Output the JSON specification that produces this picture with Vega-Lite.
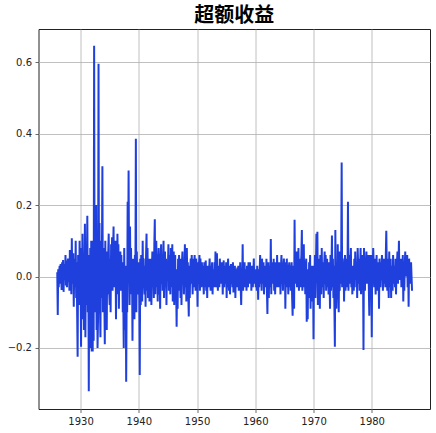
{
"$schema":"https://vega.github.io/schema/vega-lite/v6.json",
"autosize":{"type":"none"},
"padding":{"left":38.5,"top":29,"right":6,"bottom":24},
"width":391.5,"height":380,
"background":"white",
"title":{"text":"超额收益","font":"Noto Sans CJK SC","fontWeight":"bold","fontSize":20,"color":"#000","anchor":"middle","offset":3},
"config":{"view":{"stroke":"#222","strokeWidth":1},
 "axis":{"grid":true,"gridColor":"#b0b0b0","gridWidth":0.8,"domain":false,"tickColor":"#444","tickSize":3.5,"tickWidth":0.8,"labelFont":"DejaVu Sans","labelFontSize":10,"labelColor":"#222","labelPadding":3.5,"title":null}},
"data":{"values":[
{"t":"1926-01","v":0.012},{"t":"1926-02","v":-0.108},{"t":"1926-03","v":0.02},{"t":"1926-04","v":-0.03},{"t":"1926-05","v":0.015},{"t":"1926-06","v":0.03},{"t":"1926-07","v":-0.02},{"t":"1926-08","v":0.035},{"t":"1926-09","v":0.005},{"t":"1926-10","v":-0.038},{"t":"1926-11","v":0.04},{"t":"1926-12","v":0.01},
{"t":"1927-01","v":0.046},{"t":"1927-02","v":-0.043},{"t":"1927-03","v":0.02},{"t":"1927-04","v":0.035},{"t":"1927-05","v":-0.01},{"t":"1927-06","v":0.06},{"t":"1927-07","v":-0.025},{"t":"1927-08","v":0.045},{"t":"1927-09","v":-0.03},{"t":"1927-10","v":0.02},{"t":"1927-11","v":0.05},{"t":"1927-12","v":-0.015},
{"t":"1928-01","v":0.03},{"t":"1928-02","v":-0.04},{"t":"1928-03","v":0.074},{"t":"1928-04","v":0.02},{"t":"1928-05","v":0.06},{"t":"1928-06","v":-0.05},{"t":"1928-07","v":0.107},{"t":"1928-08","v":-0.02},{"t":"1928-09","v":0.04},{"t":"1928-10","v":0.065},{"t":"1928-11","v":-0.085},{"t":"1928-12","v":0.03},
{"t":"1929-01","v":0.05},{"t":"1929-02","v":-0.03},{"t":"1929-03","v":0.1},{"t":"1929-04","v":-0.06},{"t":"1929-05","v":0.04},{"t":"1929-06","v":-0.1},{"t":"1929-07","v":-0.225},{"t":"1929-08","v":0.06},{"t":"1929-09","v":0.03},{"t":"1929-10","v":-0.08},{"t":"1929-11","v":0.1},{"t":"1929-12","v":-0.05},
{"t":"1930-01","v":0.04},{"t":"1930-02","v":-0.197},{"t":"1930-03","v":0.08},{"t":"1930-04","v":-0.05},{"t":"1930-05","v":0.12},{"t":"1930-06","v":-0.12},{"t":"1930-07","v":0.06},{"t":"1930-08","v":-0.15},{"t":"1930-09","v":0.02},{"t":"1930-10","v":0.148},{"t":"1930-11","v":-0.17},{"t":"1930-12","v":0.09},
{"t":"1931-01","v":-0.08},{"t":"1931-02","v":0.05},{"t":"1931-03","v":0.17},{"t":"1931-04","v":-0.1},{"t":"1931-05","v":0.06},{"t":"1931-06","v":-0.321},{"t":"1931-07","v":0.03},{"t":"1931-08","v":-0.2},{"t":"1931-09","v":0.08},{"t":"1931-10","v":-0.12},{"t":"1931-11","v":0.1},{"t":"1931-12","v":-0.21},
{"t":"1932-01","v":0.1},{"t":"1932-02","v":-0.21},{"t":"1932-03","v":0.05},{"t":"1932-04","v":-0.18},{"t":"1932-05","v":0.646},{"t":"1932-06","v":-0.1},{"t":"1932-07","v":0.12},{"t":"1932-08","v":-0.1},{"t":"1932-09","v":0.2},{"t":"1932-10","v":-0.15},{"t":"1932-11","v":0.06},{"t":"1932-12","v":-0.2},
{"t":"1933-01","v":-0.12},{"t":"1933-02","v":0.596},{"t":"1933-03","v":-0.05},{"t":"1933-04","v":0.15},{"t":"1933-05","v":-0.08},{"t":"1933-06","v":-0.17},{"t":"1933-07","v":0.1},{"t":"1933-08","v":-0.06},{"t":"1933-09","v":0.05},{"t":"1933-10","v":0.309},{"t":"1933-11","v":-0.1},{"t":"1933-12","v":0.04},
{"t":"1934-01","v":0.08},{"t":"1934-02","v":-0.06},{"t":"1934-03","v":-0.19},{"t":"1934-04","v":0.1},{"t":"1934-05","v":-0.12},{"t":"1934-06","v":0.03},{"t":"1934-07","v":-0.15},{"t":"1934-08","v":0.07},{"t":"1934-09","v":-0.05},{"t":"1934-10","v":0.06},{"t":"1934-11","v":0.12},{"t":"1934-12","v":-0.04},
{"t":"1935-01","v":-0.08},{"t":"1935-02","v":0.05},{"t":"1935-03","v":-0.1},{"t":"1935-04","v":0.09},{"t":"1935-05","v":0.02},{"t":"1935-06","v":0.11},{"t":"1935-07","v":-0.04},{"t":"1935-08","v":0.06},{"t":"1935-09","v":0.14},{"t":"1935-10","v":-0.03},{"t":"1935-11","v":0.08},{"t":"1935-12","v":0.03},
{"t":"1936-01","v":0.1},{"t":"1936-02","v":-0.12},{"t":"1936-03","v":0.06},{"t":"1936-04","v":-0.05},{"t":"1936-05","v":0.12},{"t":"1936-06","v":0.02},{"t":"1936-07","v":0.09},{"t":"1936-08","v":-0.09},{"t":"1936-09","v":0.05},{"t":"1936-10","v":-0.02},{"t":"1936-11","v":0.07},{"t":"1936-12","v":-0.04},
{"t":"1937-01","v":0.06},{"t":"1937-02","v":-0.03},{"t":"1937-03","v":0.04},{"t":"1937-04","v":-0.1},{"t":"1937-05","v":-0.05},{"t":"1937-06","v":-0.2},{"t":"1937-07","v":0.08},{"t":"1937-08","v":-0.08},{"t":"1937-09","v":-0.15},{"t":"1937-10","v":0.03},{"t":"1937-11","v":-0.295},{"t":"1937-12","v":-0.06},
{"t":"1938-01","v":-0.1},{"t":"1938-02","v":0.209},{"t":"1938-03","v":0.0},{"t":"1938-04","v":0.297},{"t":"1938-05","v":0.04},{"t":"1938-06","v":-0.08},{"t":"1938-07","v":0.14},{"t":"1938-08","v":-0.05},{"t":"1938-09","v":0.08},{"t":"1938-10","v":-0.03},{"t":"1938-11","v":0.05},{"t":"1938-12","v":-0.18},
{"t":"1939-01","v":0.05},{"t":"1939-02","v":-0.08},{"t":"1939-03","v":0.03},{"t":"1939-04","v":-0.12},{"t":"1939-05","v":0.06},{"t":"1939-06","v":-0.02},{"t":"1939-07","v":0.386},{"t":"1939-08","v":-0.1},{"t":"1939-09","v":0.07},{"t":"1939-10","v":-0.05},{"t":"1939-11","v":0.02},{"t":"1939-12","v":-0.04},
{"t":"1940-01","v":0.04},{"t":"1940-02","v":-0.06},{"t":"1940-03","v":-0.276},{"t":"1940-04","v":0.05},{"t":"1940-05","v":-0.08},{"t":"1940-06","v":0.06},{"t":"1940-07","v":0.02},{"t":"1940-08","v":-0.07},{"t":"1940-09","v":0.1},{"t":"1940-10","v":-0.03},{"t":"1940-11","v":0.05},{"t":"1940-12","v":-0.02},
{"t":"1941-01","v":-0.05},{"t":"1941-02","v":0.03},{"t":"1941-03","v":-0.085},{"t":"1941-04","v":0.06},{"t":"1941-05","v":0.12},{"t":"1941-06","v":-0.04},{"t":"1941-07","v":0.08},{"t":"1941-08","v":-0.06},{"t":"1941-09","v":0.01},{"t":"1941-10","v":0.05},{"t":"1941-11","v":-0.07},{"t":"1941-12","v":0.03},
{"t":"1942-01","v":-0.04},{"t":"1942-02","v":0.05},{"t":"1942-03","v":-0.08},{"t":"1942-04","v":0.02},{"t":"1942-05","v":0.07},{"t":"1942-06","v":-0.03},{"t":"1942-07","v":0.04},{"t":"1942-08","v":-0.06},{"t":"1942-09","v":0.09},{"t":"1942-10","v":0.16},{"t":"1942-11","v":-0.05},{"t":"1942-12","v":0.06},
{"t":"1943-01","v":0.1},{"t":"1943-02","v":-0.03},{"t":"1943-03","v":0.06},{"t":"1943-04","v":-0.07},{"t":"1943-05","v":0.04},{"t":"1943-06","v":0.08},{"t":"1943-07","v":-0.05},{"t":"1943-08","v":0.02},{"t":"1943-09","v":-0.09},{"t":"1943-10","v":0.05},{"t":"1943-11","v":0.09},{"t":"1943-12","v":-0.02},
{"t":"1944-01","v":0.06},{"t":"1944-02","v":-0.04},{"t":"1944-03","v":0.03},{"t":"1944-04","v":0.1},{"t":"1944-05","v":-0.06},{"t":"1944-06","v":0.02},{"t":"1944-07","v":0.07},{"t":"1944-08","v":-0.03},{"t":"1944-09","v":0.05},{"t":"1944-10","v":-0.08},{"t":"1944-11","v":0.04},{"t":"1944-12","v":0.01},
{"t":"1945-01","v":0.03},{"t":"1945-02","v":0.09},{"t":"1945-03","v":-0.04},{"t":"1945-04","v":0.06},{"t":"1945-05","v":0.02},{"t":"1945-06","v":-0.05},{"t":"1945-07","v":0.08},{"t":"1945-08","v":0.04},{"t":"1945-09","v":-0.03},{"t":"1945-10","v":0.09},{"t":"1945-11","v":-0.07},{"t":"1945-12","v":0.05},
{"t":"1946-01","v":0.07},{"t":"1946-02","v":-0.08},{"t":"1946-03","v":0.03},{"t":"1946-04","v":0.06},{"t":"1946-05","v":-0.05},{"t":"1946-06","v":-0.03},{"t":"1946-07","v":-0.141},{"t":"1946-08","v":0.02},{"t":"1946-09","v":-0.09},{"t":"1946-10","v":0.05},{"t":"1946-11","v":-0.02},{"t":"1946-12","v":0.06},
{"t":"1947-01","v":-0.04},{"t":"1947-02","v":0.03},{"t":"1947-03","v":-0.06},{"t":"1947-04","v":0.05},{"t":"1947-05","v":-0.08},{"t":"1947-06","v":0.04},{"t":"1947-07","v":0.07},{"t":"1947-08","v":-0.02},{"t":"1947-09","v":0.03},{"t":"1947-10","v":-0.05},{"t":"1947-11","v":0.02},{"t":"1947-12","v":0.09},
{"t":"1948-01","v":-0.03},{"t":"1948-02","v":0.05},{"t":"1948-03","v":-0.07},{"t":"1948-04","v":0.08},{"t":"1948-05","v":-0.02},{"t":"1948-06","v":0.04},{"t":"1948-07","v":-0.05},{"t":"1948-08","v":-0.112},{"t":"1948-09","v":0.03},{"t":"1948-10","v":-0.06},{"t":"1948-11","v":0.02},{"t":"1948-12","v":0.05},
{"t":"1949-01","v":-0.02},{"t":"1949-02","v":0.06},{"t":"1949-03","v":0.01},{"t":"1949-04","v":-0.05},{"t":"1949-05","v":0.04},{"t":"1949-06","v":0.05},{"t":"1949-07","v":-0.03},{"t":"1949-08","v":0.06},{"t":"1949-09","v":0.02},{"t":"1949-10","v":-0.04},{"t":"1949-11","v":0.05},{"t":"1949-12","v":0.03},
{"t":"1950-01","v":0.02},{"t":"1950-02","v":-0.085},{"t":"1950-03","v":0.04},{"t":"1950-04","v":-0.02},{"t":"1950-05","v":0.03},{"t":"1950-06","v":0.06},{"t":"1950-07","v":-0.04},{"t":"1950-08","v":0.05},{"t":"1950-09","v":0.01},{"t":"1950-10","v":-0.03},{"t":"1950-11","v":0.04},{"t":"1950-12","v":-0.01},
{"t":"1951-01","v":0.03},{"t":"1951-02","v":-0.02},{"t":"1951-03","v":-0.05},{"t":"1951-04","v":0.04},{"t":"1951-05","v":-0.03},{"t":"1951-06","v":0.02},{"t":"1951-07","v":0.045},{"t":"1951-08","v":-0.04},{"t":"1951-09","v":0.01},{"t":"1951-10","v":-0.06},{"t":"1951-11","v":0.03},{"t":"1951-12","v":0.0},
{"t":"1952-01","v":-0.03},{"t":"1952-02","v":0.02},{"t":"1952-03","v":0.05},{"t":"1952-04","v":-0.01},{"t":"1952-05","v":-0.04},{"t":"1952-06","v":0.03},{"t":"1952-07","v":-0.02},{"t":"1952-08","v":0.04},{"t":"1952-09","v":-0.05},{"t":"1952-10","v":0.02},{"t":"1952-11","v":0.01},{"t":"1952-12","v":-0.03},
{"t":"1953-01","v":0.04},{"t":"1953-02","v":-0.02},{"t":"1953-03","v":0.07},{"t":"1953-04","v":-0.03},{"t":"1953-05","v":0.02},{"t":"1953-06","v":0.065},{"t":"1953-07","v":-0.01},{"t":"1953-08","v":-0.04},{"t":"1953-09","v":0.03},{"t":"1953-10","v":0.0},{"t":"1953-11","v":-0.03},{"t":"1953-12","v":0.05},
{"t":"1954-01","v":-0.01},{"t":"1954-02","v":0.03},{"t":"1954-03","v":-0.02},{"t":"1954-04","v":0.04},{"t":"1954-05","v":0.01},{"t":"1954-06","v":-0.05},{"t":"1954-07","v":0.02},{"t":"1954-08","v":0.045},{"t":"1954-09","v":-0.03},{"t":"1954-10","v":0.01},{"t":"1954-11","v":0.03},{"t":"1954-12","v":-0.02},
{"t":"1955-01","v":0.04},{"t":"1955-02","v":-0.06},{"t":"1955-03","v":0.02},{"t":"1955-04","v":-0.03},{"t":"1955-05","v":0.05},{"t":"1955-06","v":0.0},{"t":"1955-07","v":-0.04},{"t":"1955-08","v":0.03},{"t":"1955-09","v":-0.05},{"t":"1955-10","v":0.01},{"t":"1955-11","v":0.035},{"t":"1955-12","v":-0.02},
{"t":"1956-01","v":0.02},{"t":"1956-02","v":-0.03},{"t":"1956-03","v":0.04},{"t":"1956-04","v":-0.045},{"t":"1956-05","v":0.01},{"t":"1956-06","v":-0.02},{"t":"1956-07","v":0.03},{"t":"1956-08","v":-0.06},{"t":"1956-09","v":0.02},{"t":"1956-10","v":0.01},{"t":"1956-11","v":-0.03},{"t":"1956-12","v":0.025},
{"t":"1957-01","v":-0.01},{"t":"1957-02","v":0.03},{"t":"1957-03","v":-0.04},{"t":"1957-04","v":0.02},{"t":"1957-05","v":-0.02},{"t":"1957-06","v":0.04},{"t":"1957-07","v":-0.03},{"t":"1957-08","v":-0.08},{"t":"1957-09","v":0.01},{"t":"1957-10","v":-0.02},{"t":"1957-11","v":0.09},{"t":"1957-12","v":-0.04},
{"t":"1958-01","v":0.03},{"t":"1958-02","v":-0.02},{"t":"1958-03","v":0.04},{"t":"1958-04","v":-0.03},{"t":"1958-05","v":0.02},{"t":"1958-06","v":0.01},{"t":"1958-07","v":-0.04},{"t":"1958-08","v":0.03},{"t":"1958-09","v":0.0},{"t":"1958-10","v":-0.03},{"t":"1958-11","v":0.04},{"t":"1958-12","v":0.02},
{"t":"1959-01","v":-0.02},{"t":"1959-02","v":0.04},{"t":"1959-03","v":-0.01},{"t":"1959-04","v":0.03},{"t":"1959-05","v":-0.04},{"t":"1959-06","v":0.02},{"t":"1959-07","v":0.03},{"t":"1959-08","v":-0.03},{"t":"1959-09","v":0.01},{"t":"1959-10","v":0.05},{"t":"1959-11","v":-0.02},{"t":"1959-12","v":0.0},
{"t":"1960-01","v":0.02},{"t":"1960-02","v":-0.03},{"t":"1960-03","v":0.01},{"t":"1960-04","v":-0.04},{"t":"1960-05","v":0.03},{"t":"1960-06","v":0.0},{"t":"1960-07","v":-0.065},{"t":"1960-08","v":0.02},{"t":"1960-09","v":-0.03},{"t":"1960-10","v":0.01},{"t":"1960-11","v":0.06},{"t":"1960-12","v":-0.02},
{"t":"1961-01","v":0.03},{"t":"1961-02","v":-0.04},{"t":"1961-03","v":0.05},{"t":"1961-04","v":-0.02},{"t":"1961-05","v":0.01},{"t":"1961-06","v":0.04},{"t":"1961-07","v":-0.05},{"t":"1961-08","v":0.02},{"t":"1961-09","v":-0.01},{"t":"1961-10","v":0.03},{"t":"1961-11","v":-0.03},{"t":"1961-12","v":0.05},
{"t":"1962-01","v":-0.04},{"t":"1962-02","v":-0.105},{"t":"1962-03","v":0.02},{"t":"1962-04","v":0.04},{"t":"1962-05","v":-0.06},{"t":"1962-06","v":0.03},{"t":"1962-07","v":0.01},{"t":"1962-08","v":-0.03},{"t":"1962-09","v":0.105},{"t":"1962-10","v":-0.05},{"t":"1962-11","v":0.04},{"t":"1962-12","v":-0.02},
{"t":"1963-01","v":0.03},{"t":"1963-02","v":-0.02},{"t":"1963-03","v":0.05},{"t":"1963-04","v":-0.04},{"t":"1963-05","v":0.02},{"t":"1963-06","v":-0.05},{"t":"1963-07","v":0.04},{"t":"1963-08","v":0.0},{"t":"1963-09","v":-0.03},{"t":"1963-10","v":0.06},{"t":"1963-11","v":-0.02},{"t":"1963-12","v":0.03},
{"t":"1964-01","v":-0.03},{"t":"1964-02","v":0.04},{"t":"1964-03","v":-0.01},{"t":"1964-04","v":0.02},{"t":"1964-05","v":-0.05},{"t":"1964-06","v":0.03},{"t":"1964-07","v":0.06},{"t":"1964-08","v":-0.02},{"t":"1964-09","v":0.01},{"t":"1964-10","v":-0.04},{"t":"1964-11","v":0.03},{"t":"1964-12","v":0.05},
{"t":"1965-01","v":-0.02},{"t":"1965-02","v":0.04},{"t":"1965-03","v":-0.09},{"t":"1965-04","v":0.02},{"t":"1965-05","v":-0.03},{"t":"1965-06","v":0.05},{"t":"1965-07","v":-0.01},{"t":"1965-08","v":0.03},{"t":"1965-09","v":-0.05},{"t":"1965-10","v":0.02},{"t":"1965-11","v":0.04},{"t":"1965-12","v":-0.03},
{"t":"1966-01","v":0.03},{"t":"1966-02","v":-0.04},{"t":"1966-03","v":0.02},{"t":"1966-04","v":0.04},{"t":"1966-05","v":-0.06},{"t":"1966-06","v":-0.11},{"t":"1966-07","v":0.03},{"t":"1966-08","v":-0.05},{"t":"1966-09","v":-0.09},{"t":"1966-10","v":0.159},{"t":"1966-11","v":-0.02},{"t":"1966-12","v":0.05},
{"t":"1967-01","v":0.02},{"t":"1967-02","v":0.07},{"t":"1967-03","v":-0.03},{"t":"1967-04","v":0.04},{"t":"1967-05","v":-0.02},{"t":"1967-06","v":0.08},{"t":"1967-07","v":-0.04},{"t":"1967-08","v":0.05},{"t":"1967-09","v":0.01},{"t":"1967-10","v":-0.03},{"t":"1967-11","v":0.03},{"t":"1967-12","v":0.06},
{"t":"1968-01","v":0.13},{"t":"1968-02","v":-0.04},{"t":"1968-03","v":0.02},{"t":"1968-04","v":0.06},{"t":"1968-05","v":0.09},{"t":"1968-06","v":-0.03},{"t":"1968-07","v":0.04},{"t":"1968-08","v":-0.05},{"t":"1968-09","v":0.03},{"t":"1968-10","v":0.05},{"t":"1968-11","v":-0.127},{"t":"1968-12","v":0.01},
{"t":"1969-01","v":-0.12},{"t":"1969-02","v":0.02},{"t":"1969-03","v":-0.06},{"t":"1969-04","v":0.04},{"t":"1969-05","v":-0.03},{"t":"1969-06","v":0.06},{"t":"1969-07","v":-0.09},{"t":"1969-08","v":0.02},{"t":"1969-09","v":-0.05},{"t":"1969-10","v":0.03},{"t":"1969-11","v":-0.07},{"t":"1969-12","v":0.01},
{"t":"1970-01","v":-0.176},{"t":"1970-02","v":0.03},{"t":"1970-03","v":-0.04},{"t":"1970-04","v":0.06},{"t":"1970-05","v":-0.06},{"t":"1970-06","v":0.02},{"t":"1970-07","v":0.12},{"t":"1970-08","v":-0.01},{"t":"1970-09","v":0.125},{"t":"1970-10","v":-0.08},{"t":"1970-11","v":0.04},{"t":"1970-12","v":-0.02},
{"t":"1971-01","v":0.05},{"t":"1971-02","v":-0.09},{"t":"1971-03","v":0.06},{"t":"1971-04","v":0.01},{"t":"1971-05","v":-0.05},{"t":"1971-06","v":0.08},{"t":"1971-07","v":-0.03},{"t":"1971-08","v":0.04},{"t":"1971-09","v":0.02},{"t":"1971-10","v":-0.06},{"t":"1971-11","v":0.03},{"t":"1971-12","v":0.07},
{"t":"1972-01","v":-0.02},{"t":"1972-02","v":0.06},{"t":"1972-03","v":-0.04},{"t":"1972-04","v":0.03},{"t":"1972-05","v":0.05},{"t":"1972-06","v":-0.03},{"t":"1972-07","v":0.02},{"t":"1972-08","v":-0.05},{"t":"1972-09","v":0.04},{"t":"1972-10","v":0.0},{"t":"1972-11","v":-0.09},{"t":"1972-12","v":0.06},
{"t":"1973-01","v":-0.04},{"t":"1973-02","v":0.02},{"t":"1973-03","v":0.115},{"t":"1973-04","v":-0.03},{"t":"1973-05","v":0.05},{"t":"1973-06","v":-0.06},{"t":"1973-07","v":0.03},{"t":"1973-08","v":-0.08},{"t":"1973-09","v":-0.197},{"t":"1973-10","v":0.13},{"t":"1973-11","v":-0.05},{"t":"1973-12","v":-0.09},
{"t":"1974-01","v":0.02},{"t":"1974-02","v":-0.06},{"t":"1974-03","v":0.09},{"t":"1974-04","v":-0.03},{"t":"1974-05","v":-0.1},{"t":"1974-06","v":0.07},{"t":"1974-07","v":-0.04},{"t":"1974-08","v":0.05},{"t":"1974-09","v":-0.02},{"t":"1974-10","v":0.04},{"t":"1974-11","v":0.319},{"t":"1974-12","v":-0.03},
{"t":"1975-01","v":0.05},{"t":"1975-02","v":-0.02},{"t":"1975-03","v":0.04},{"t":"1975-04","v":-0.07},{"t":"1975-05","v":0.03},{"t":"1975-06","v":0.06},{"t":"1975-07","v":-0.04},{"t":"1975-08","v":0.02},{"t":"1975-09","v":-0.03},{"t":"1975-10","v":0.05},{"t":"1975-11","v":0.0},{"t":"1975-12","v":0.209},
{"t":"1976-01","v":-0.04},{"t":"1976-02","v":0.03},{"t":"1976-03","v":0.06},{"t":"1976-04","v":-0.02},{"t":"1976-05","v":0.04},{"t":"1976-06","v":0.08},{"t":"1976-07","v":-0.03},{"t":"1976-08","v":0.02},{"t":"1976-09","v":-0.05},{"t":"1976-10","v":0.03},{"t":"1976-11","v":0.01},{"t":"1976-12","v":-0.04},
{"t":"1977-01","v":0.05},{"t":"1977-02","v":-0.03},{"t":"1977-03","v":0.07},{"t":"1977-04","v":0.02},{"t":"1977-05","v":-0.01},{"t":"1977-06","v":0.04},{"t":"1977-07","v":-0.06},{"t":"1977-08","v":0.08},{"t":"1977-09","v":0.03},{"t":"1977-10","v":-0.02},{"t":"1977-11","v":0.05},{"t":"1977-12","v":-0.04},
{"t":"1978-01","v":0.02},{"t":"1978-02","v":0.08},{"t":"1978-03","v":-0.05},{"t":"1978-04","v":0.03},{"t":"1978-05","v":0.06},{"t":"1978-06","v":-0.02},{"t":"1978-07","v":0.04},{"t":"1978-08","v":-0.206},{"t":"1978-09","v":0.08},{"t":"1978-10","v":0.02},{"t":"1978-11","v":-0.04},{"t":"1978-12","v":0.05},
{"t":"1979-01","v":0.03},{"t":"1979-02","v":0.07},{"t":"1979-03","v":-0.02},{"t":"1979-04","v":0.05},{"t":"1979-05","v":0.01},{"t":"1979-06","v":0.06},{"t":"1979-07","v":-0.03},{"t":"1979-08","v":-0.11},{"t":"1979-09","v":0.04},{"t":"1979-10","v":0.06},{"t":"1979-11","v":-0.02},{"t":"1979-12","v":0.03},
{"t":"1980-01","v":-0.17},{"t":"1980-02","v":0.06},{"t":"1980-03","v":0.02},{"t":"1980-04","v":0.08},{"t":"1980-05","v":0.04},{"t":"1980-06","v":-0.03},{"t":"1980-07","v":0.05},{"t":"1980-08","v":0.01},{"t":"1980-09","v":-0.05},{"t":"1980-10","v":0.02},{"t":"1980-11","v":0.06},{"t":"1980-12","v":-0.04},
{"t":"1981-01","v":0.04},{"t":"1981-02","v":-0.02},{"t":"1981-03","v":0.03},{"t":"1981-04","v":-0.09},{"t":"1981-05","v":0.05},{"t":"1981-06","v":0.01},{"t":"1981-07","v":-0.03},{"t":"1981-08","v":0.04},{"t":"1981-09","v":-0.01},{"t":"1981-10","v":0.06},{"t":"1981-11","v":0.02},{"t":"1981-12","v":-0.04},
{"t":"1982-01","v":0.03},{"t":"1982-02","v":0.05},{"t":"1982-03","v":-0.02},{"t":"1982-04","v":0.04},{"t":"1982-05","v":-0.03},{"t":"1982-06","v":0.06},{"t":"1982-07","v":0.128},{"t":"1982-08","v":0.02},{"t":"1982-09","v":-0.04},{"t":"1982-10","v":0.05},{"t":"1982-11","v":-0.01},{"t":"1982-12","v":-0.06},
{"t":"1983-01","v":0.07},{"t":"1983-02","v":-0.03},{"t":"1983-03","v":0.02},{"t":"1983-04","v":0.05},{"t":"1983-05","v":-0.06},{"t":"1983-06","v":0.03},{"t":"1983-07","v":0.0},{"t":"1983-08","v":-0.04},{"t":"1983-09","v":0.06},{"t":"1983-10","v":-0.02},{"t":"1983-11","v":0.03},{"t":"1983-12","v":0.01},
{"t":"1984-01","v":-0.03},{"t":"1984-02","v":0.05},{"t":"1984-03","v":-0.05},{"t":"1984-04","v":0.02},{"t":"1984-05","v":0.04},{"t":"1984-06","v":0.07},{"t":"1984-07","v":-0.02},{"t":"1984-08","v":0.03},{"t":"1984-09","v":0.1},{"t":"1984-10","v":-0.01},{"t":"1984-11","v":0.04},{"t":"1984-12","v":0.02},
{"t":"1985-01","v":0.05},{"t":"1985-02","v":-0.03},{"t":"1985-03","v":0.03},{"t":"1985-04","v":-0.01},{"t":"1985-05","v":0.06},{"t":"1985-06","v":-0.07},{"t":"1985-07","v":0.02},{"t":"1985-08","v":-0.04},{"t":"1985-09","v":0.03},{"t":"1985-10","v":0.07},{"t":"1985-11","v":0.0},{"t":"1985-12","v":0.04},
{"t":"1986-01","v":0.02},{"t":"1986-02","v":0.06},{"t":"1986-03","v":-0.03},{"t":"1986-04","v":0.04},{"t":"1986-05","v":-0.085},{"t":"1986-06","v":0.05},{"t":"1986-07","v":0.01},{"t":"1986-08","v":0.03},{"t":"1986-09","v":-0.02},{"t":"1986-10","v":0.04},{"t":"1986-11","v":0.0},{"t":"1986-12","v":-0.04}
]},
"mark":{"type":"line","color":"#2040dd","strokeWidth":2,"clip":true},
"encoding":{
 "x":{"field":"t","type":"temporal","scale":{"type":"utc","domain":[{"year":1922,"month":10,"date":12,"utc":true},{"year":1990,"month":1,"date":1,"utc":true}],"nice":false},
   "axis":{"values":[{"year":1930,"utc":true},{"year":1940,"utc":true},{"year":1950,"utc":true},{"year":1960,"utc":true},{"year":1970,"utc":true},{"year":1980,"utc":true}],"format":"%Y","labelFlush":false,"labelOverlap":false}},
 "y":{"field":"v","type":"quantitative","scale":{"domain":[-0.371,0.693],"nice":false,"zero":false},
   "axis":{"values":[-0.2,0,0.2,0.4,0.6],"format":".1f"}}
}
}
